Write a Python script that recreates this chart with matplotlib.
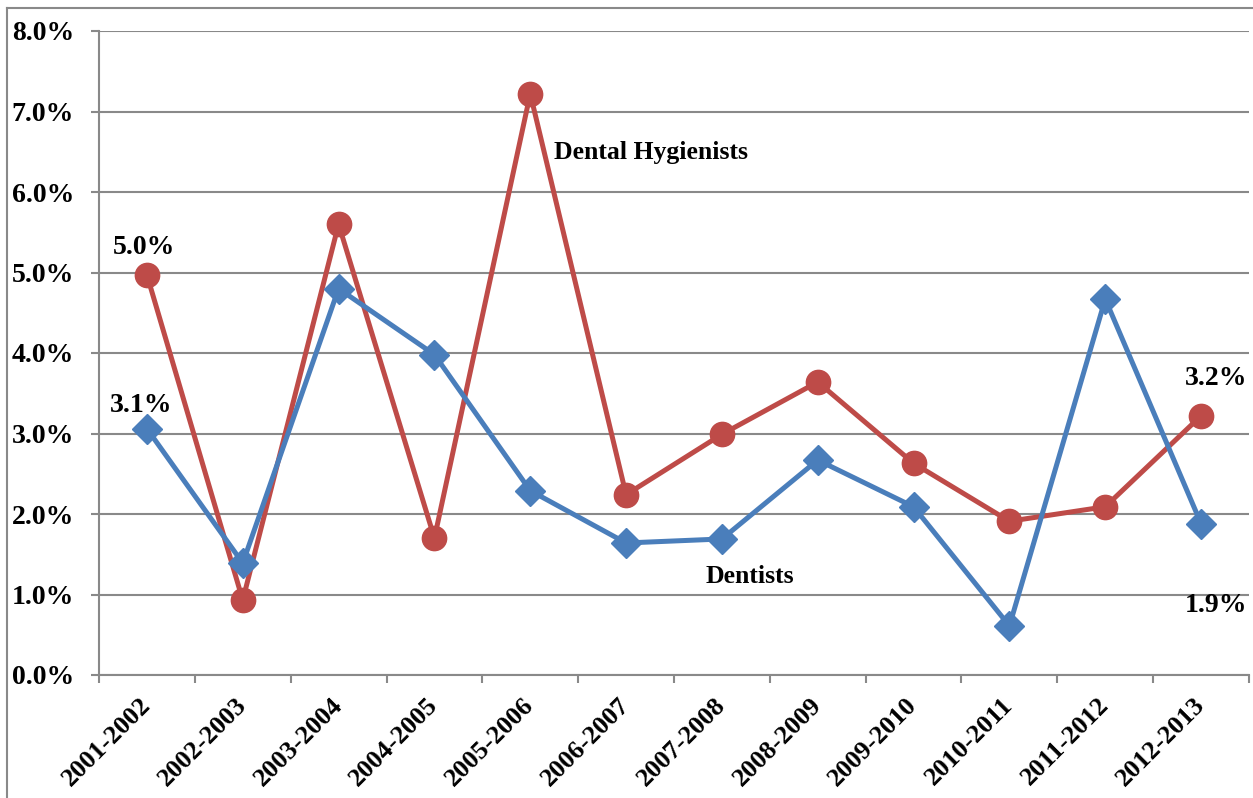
import matplotlib
matplotlib.use('Agg')
import matplotlib.pyplot as plt
from matplotlib.lines import Line2D
from matplotlib.ticker import FuncFormatter, FixedLocator

years = ['2001-2002', '2002-2003', '2003-2004', '2004-2005', '2005-2006', '2006-2007',
         '2007-2008', '2008-2009', '2009-2010', '2010-2011', '2011-2012', '2012-2013']
dentists = [3.06, 1.39, 4.80, 3.98, 2.29, 1.64, 1.69, 2.67, 2.09, 0.61, 4.67, 1.88]
hygienists = [4.97, 0.93, 5.60, 1.70, 7.22, 2.24, 2.99, 3.64, 2.63, 1.91, 2.09, 3.22]

blue = '#4a7ebb'
red = '#be4b48'
grid = '#898989'

plt.rcParams['font.family'] = 'Liberation Serif'
plt.rcParams['font.weight'] = 'bold'

fig = plt.figure(figsize=(12.53, 7.98), dpi=100)
ax = fig.add_axes([99/1253, 1 - 675/798, 1150/1253, 644/798])

x = list(range(len(years)))
ax.plot(x, hygienists, color=red, lw=3.6, marker='o', ms=17.5, zorder=3)
ax.plot(x, dentists, color=blue, lw=3.6, marker='D', ms=15, zorder=4)

ax.set_xlim(-0.5, len(years) - 0.5)
ax.set_ylim(0, 8)
ax.set_yticks(range(0, 9))
ax.yaxis.set_major_formatter(FuncFormatter(lambda v, p: '%.1f%%' % v))
ax.set_xticks(x)
ax.set_xticklabels(years, rotation=45, ha='right', va='center', rotation_mode='anchor', fontsize=19)
ax.xaxis.set_minor_locator(FixedLocator([i - 0.5 for i in range(len(years) + 1)]))
ax.tick_params(axis='x', which='major', length=0, pad=19)
ax.tick_params(axis='x', which='minor', length=6, width=1.5, color=grid)
ax.tick_params(axis='y', length=6, width=1.5, color=grid, labelsize=20, pad=12)
ax.grid(axis='y', color=grid, lw=1.5)
for s in ['top', 'right']:
    ax.spines[s].set_visible(False)
for s in ['left', 'bottom']:
    ax.spines[s].set_color(grid)
    ax.spines[s].set_linewidth(1.5)

# labels on the lines
ax.annotate('Dental Hygienists', xy=(4, hygienists[4]), xytext=(17, -42), textcoords='offset points',
            fontsize=18.5, fontweight='bold', ha='left', va='center')
ax.annotate('Dentists', xy=(6, dentists[6]), xytext=(-12, -27), textcoords='offset points',
            fontsize=18.5, fontweight='bold', ha='left', va='center')

ax.annotate('%.1f%%' % hygienists[0], xy=(0, hygienists[0]), xytext=(-2, 20), textcoords='offset points',
            fontsize=20, fontweight='bold', ha='center', va='center')
ax.annotate('%.1f%%' % dentists[0], xy=(0, dentists[0]), xytext=(-4, 17), textcoords='offset points',
            fontsize=20, fontweight='bold', ha='center', va='center')
ax.annotate('%.1f%%' % hygienists[-1], xy=(11, hygienists[-1]), xytext=(11, 27), textcoords='offset points',
            fontsize=20, fontweight='bold', ha='center', va='center')
ax.annotate('%.1f%%' % dentists[-1], xy=(11, dentists[-1]), xytext=(11, -59), textcoords='offset points',
            fontsize=20, fontweight='bold', ha='center', va='center')

# chart frame
fig.add_artist(Line2D([7/1253, 7/1253], [0, 1 - 8/798], color=grid, lw=1.5))
fig.add_artist(Line2D([7/1253, 1], [1 - 8/798, 1 - 8/798], color=grid, lw=1.5))

fig.savefig('out.png', dpi=100)
